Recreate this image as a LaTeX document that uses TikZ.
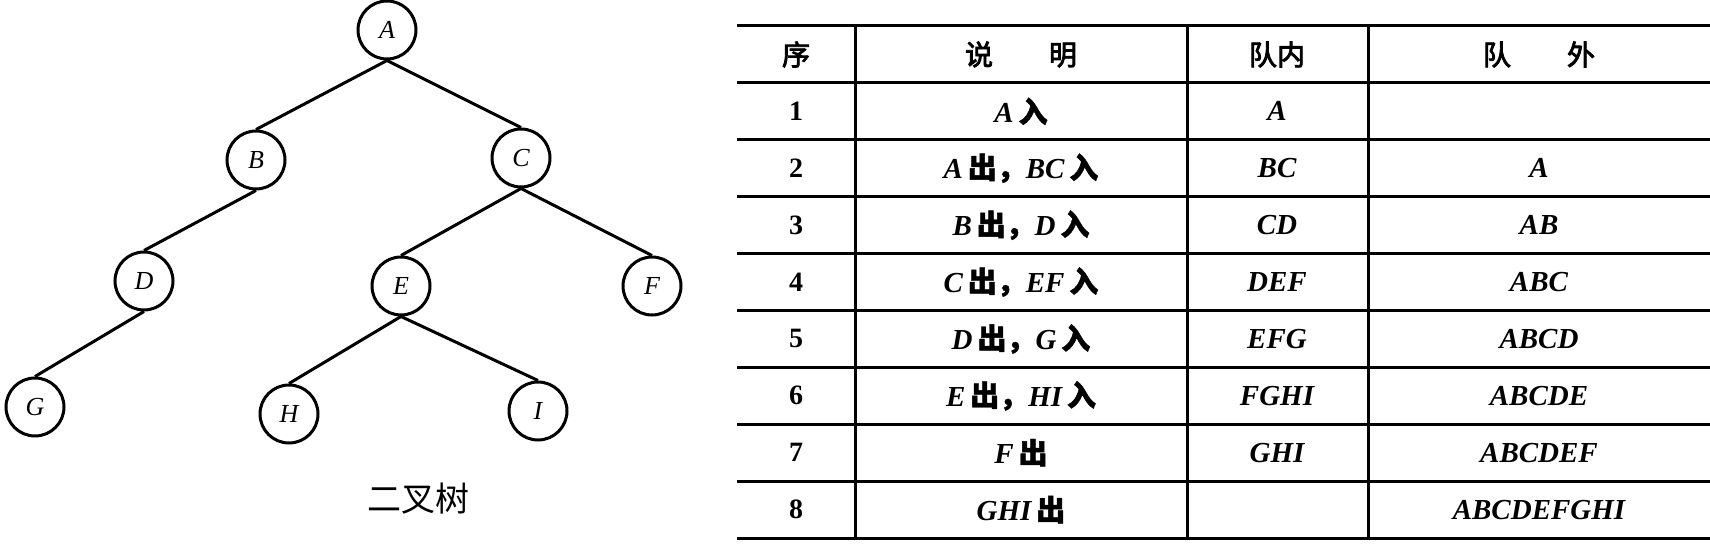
\documentclass[tikz,border=0pt]{standalone}
\usepackage{fontspec}
\setmainfont{Liberation Serif}
\newfontfamily\cjk{Noto Sans CJK SC}
\newfontfamily\cjkb{Noto Sans CJK SC}[FakeBold=1.5]
\newfontfamily\cjkh{Noto Sans CJK SC}[FakeBold=3]
\newcommand{\zh}[1]{{\cjkb #1}}
\usetikzlibrary{shapes.geometric}
\tikzstyle{vertex} = [ellipse, draw=black, line width=1.5pt, minimum width=29pt, minimum height=29pt, inner sep=0pt, font=\fontsize{13}{13}\selectfont\itshape]
\tikzstyle{branch} = [line width=1.5pt]
\tikzstyle{rule} = [line width=1.5pt]
\tikzstyle{head} = [font=\fontsize{14}{14}\selectfont\cjkh]
\tikzstyle{cell} = [font=\fontsize{14.5}{14.5}\selectfont\bfseries\itshape]
\tikzstyle{num} = [font=\fontsize{14}{14}\selectfont\bfseries]

\begin{document}
\begin{tikzpicture}[x=0.5pt, y=-0.5pt]
  \useasboundingbox (0,0) rectangle (1710,545);

  % binary tree
  \node (A) [vertex] at (387,30) {A};
  \node (B) [vertex] at (256,160) {B};
  \node (C) [vertex] at (521,158) {C};
  \node (D) [vertex] at (144,281) {D};
  \node (E) [vertex] at (401,286) {E};
  \node (F) [vertex] at (652,286) {F};
  \node (G) [vertex] at (35,407) {G};
  \node (H) [vertex] at (289,414) {H};
  \node (I) [vertex] at (538,411) {I};
  \node (caption) [font=\fontsize{17}{17}\selectfont\cjk] at (418,499) {二叉树};

  \draw [branch] (A.south) -- (B.north);
  \draw [branch] (A.south) -- (C.north);
  \draw [branch] (B.south) -- (D.north);
  \draw [branch] (D.south) -- (G.north);
  \draw [branch] (C.south) -- (E.north);
  \draw [branch] (C.south) -- (F.north);
  \draw [branch] (E.south) -- (H.north);
  \draw [branch] (E.south) -- (I.north);

  % queue table
  \foreach \k in {0,...,9}
    \draw [rule] (737,{26+56.9*\k}) -- (1710,{26+56.9*\k});
  \foreach \x in {855,1187,1368}
    \draw [rule] (\x,26) -- (\x,538);

  \node (h1) [head] at (796,54.5) {序};
  \node (h2) [head] at (1021,54.5) {说\hspace{2em}明};
  \node (h3) [head] at (1277,54.5) {队内};
  \node (h4) [head] at (1539,54.5) {队\hspace{2em}外};

  \foreach \i/\say/\inq/\outq in {
      1/{A\,\zh{入}}/A/,
      2/{A\,\zh{出，}BC\,\zh{入}}/BC/A,
      3/{B\,\zh{出，}D\,\zh{入}}/CD/AB,
      4/{C\,\zh{出，}EF\,\zh{入}}/DEF/ABC,
      5/{D\,\zh{出，}G\,\zh{入}}/EFG/ABCD,
      6/{E\,\zh{出，}HI\,\zh{入}}/FGHI/ABCDE,
      7/{F\,\zh{出}}/GHI/ABCDEF,
      8/{GHI\,\zh{出}}//ABCDEFGHI} {
    \node (n\i) [num] at (796,{26+56.9*(\i+0.5)}) {\i};
    \node (s\i) [cell] at (1021,{26+56.9*(\i+0.5)}) {\say};
    \node (q\i) [cell] at (1277,{26+56.9*(\i+0.5)}) {\inq};
    \node (o\i) [cell] at (1539,{26+56.9*(\i+0.5)}) {\outq};
  }
\end{tikzpicture}
\end{document}
